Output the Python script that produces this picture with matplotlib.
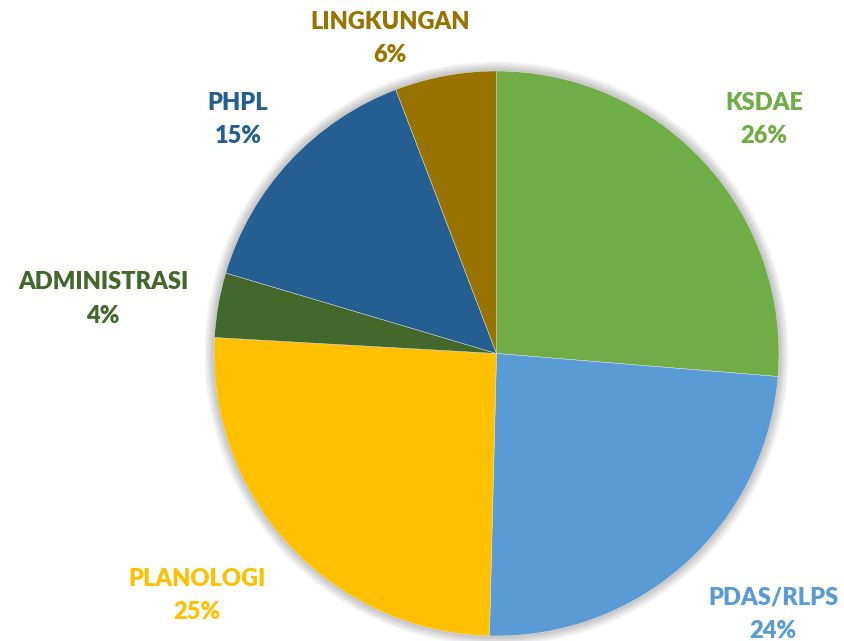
import matplotlib
matplotlib.use("Agg")
import matplotlib.pyplot as plt
from matplotlib.patches import Circle

categories = ["KSDAE", "PDAS/RLPS", "PLANOLOGI", "ADMINISTRASI", "PHPL", "LINGKUNGAN"]
values = [26.3, 24.1, 25.5, 3.7, 14.6, 5.8]
pct_labels = ["26%", "24%", "25%", "4%", "15%", "6%"]
colors = ["#70AD47", "#5B9BD5", "#FFC000", "#43682B", "#255E91", "#997300"]
label_pos = [(0.947, 0.828), (0.979, -0.922), (-1.060, -0.858),
             (-1.393, 0.193), (-0.915, 0.828), (-0.377, 1.115)]

W, H = 844, 641
cx, cy, R = 496.5, 353.5, 282.5

fig = plt.figure(figsize=(W / 100, H / 100), dpi=100)
ax = fig.add_axes([0, 0, 1, 1])

# soft shadow
for k in range(10, 0, -1):
    ax.add_patch(Circle((0, 0), 1 + k * 0.0035, facecolor="#000000",
                        edgecolor="none", alpha=0.025, zorder=0))

ax.pie(values, colors=colors, startangle=90, counterclock=False,
       wedgeprops=dict(linewidth=0.3, edgecolor="#e6e6e6"),
       radius=1.0)

for name, pct, c, (x, y) in zip(categories, pct_labels, colors, label_pos):
    ax.text(x, y, f"{name}\n{pct}", ha="center", va="center", color=c,
            fontsize=17, fontweight="heavy", family=["Lato", "DejaVu Sans"],
            linespacing=1.62)

ax.set_xlim(-cx / R, (W - cx) / R)
ax.set_ylim(-(H - cy) / R, cy / R)
ax.set_aspect("auto")
ax.axis("off")

fig.savefig("out.png", dpi=100, facecolor="white")
